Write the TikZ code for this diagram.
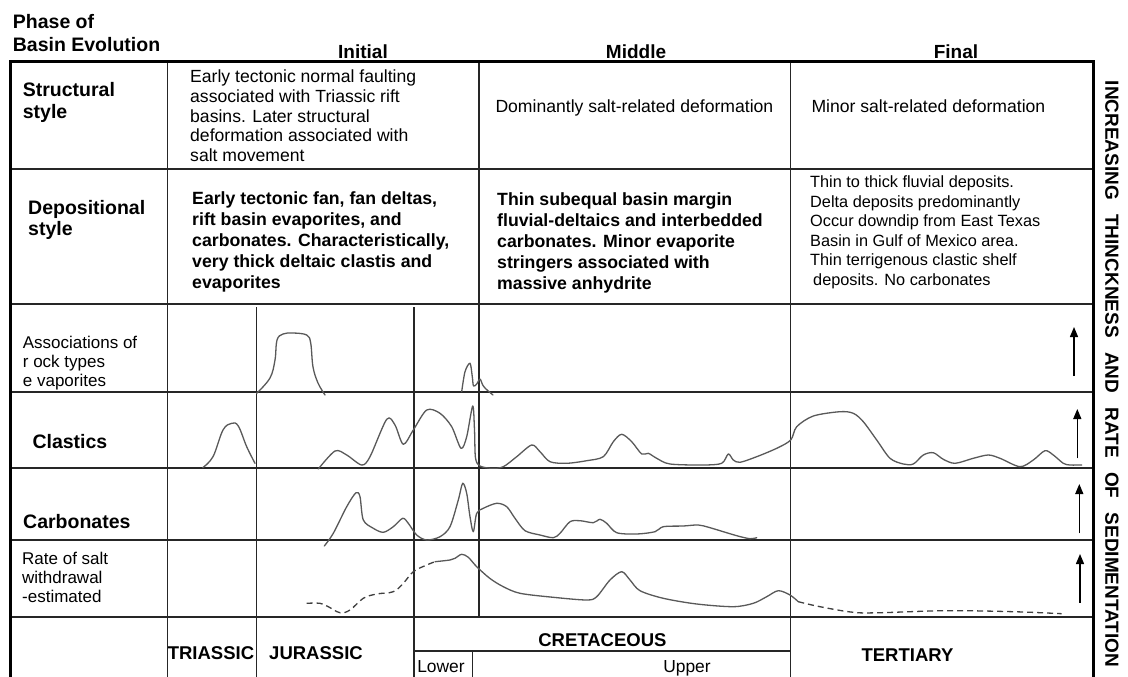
\documentclass[tikz,border=0pt]{standalone}
\usepackage{fontspec}
\setmainfont{Liberation Sans}
\usetikzlibrary{arrows.meta}

\tikzset{
  tline/.style={line width=1.2pt, black!85},
  frame/.style={line width=3pt, black},
  curve/.style={line width=1.3pt, black!65, line join=round, line cap=round},
  dcurve/.style={line width=1.3pt, black!75, dash pattern=on 6pt off 4pt},
  uparrow/.style={line width=1.3pt, -{Triangle[width=8pt,length=10pt]}},
  txt/.style={anchor=base west, inner sep=0pt, align=left, font=\fontsize{17.6}{19.85}\selectfont},
  ftxt/.style={anchor=base west, inner sep=0pt, align=left, font=\fontsize{16.3}{19.5}\selectfont},
  btxt/.style={anchor=base west, inner sep=0pt, align=left, font=\bfseries\fontsize{17.7}{21}\selectfont},
  lbl/.style={anchor=base west, inner sep=0pt, align=left, font=\bfseries\fontsize{19.5}{21.6}\selectfont},
  slbl/.style={anchor=base west, inner sep=0pt, align=left, font=\fontsize{17}{19.3}\selectfont},
  hd/.style={anchor=base, inner sep=0pt, font=\bfseries\fontsize{19}{19}\selectfont},
  per/.style={anchor=base, inner sep=0pt, font=\bfseries\fontsize{18.5}{18.5}\selectfont},
  sub/.style={anchor=base, inner sep=0pt, font=\fontsize{17.4}{17.4}\selectfont}
}

\begin{document}
\begin{tikzpicture}[x=1pt,y=-1pt]

\fill[white] (0,0) rectangle (1128,677);
\useasboundingbox (0,0) rectangle (1128,677);

% table lines
\foreach \y in {169,304,392,468,540,617}
  \draw[tline] (10,\y) -- (1093,\y);
\draw[tline] (414,651) -- (790.7,651);

\draw[tline] (167.5,62) -- (167.5,677);
\draw[tline] (479,62) -- (479,617);
\draw[tline] (790.7,62) -- (790.7,677);
\draw[tline] (256.5,307) -- (256.5,677);
\draw[tline] (414,307) -- (414,677);
\draw[tline] (472.8,651) -- (472.8,677);

\draw[frame] (10,677) -- (10,62) -- (1093,62) -- (1093,677);

% headings (multi-line nodes sit on their last baseline)
\node[lbl] (phase) at (12.7,51.7) {Phase of\\[1.8pt]Basin Evolution};
\node[hd] (hdinit) at (363,59) {Initial};
\node[hd] (hdmid) at (636,59) {Middle};
\node[hd] (hdfin) at (956,59) {Final};

% row labels
\node[lbl] (lstruct) at (22.7,118.3) {Structural\\style};
\node[lbl] (ldepo) at (28,235.6) {Depositional\\style};
\node[slbl] (lassoc) at (22.7,386.9) {Associations of\\ r ock types\\e vaporites};
\node[lbl] (lclast) at (32.3,448.3) {Clastics};
\node[lbl] (lcarb) at (23,528.3) {Carbonates};
\node[slbl] (lrate) at (22,602.6) {Rate of salt\\withdrawal\\-estimated};

% structural style
\node[txt] (stinit) at (190,161.7) {Early tectonic normal faulting\\associated with Triassic rift\\basins. Later structural\\deformation associated with\\salt movement};
\node[txt] (stmid) at (495.3,112.7) {Dominantly salt-related deformation};
\node[txt] (stfin) at (811.3,112.7) {Minor salt-related deformation};

% depositional style
\node[btxt] (dpinit) at (192,288) {Early tectonic fan, fan deltas,\\rift basin evaporites, and\\carbonates. Characteristically,\\very thick deltaic clastis and\\evaporites};
\node[btxt] (dpmid) at (497,289) {Thin subequal basin margin\\fluvial-deltaics and interbedded\\carbonates. Minor evaporite\\stringers associated with\\massive anhydrite};
\node[ftxt] (dpfin) at (810,285) {Thin to thick fluvial deposits.\\Delta deposits predominantly\\Occur downdip from East Texas\\Basin in Gulf of Mexico area.\\Thin terrigenous clastic shelf\\\hspace{3pt}deposits. No carbonates};

% periods
\node[per] (triassic) at (211,659.5) {TRIASSIC};
\node[per] (jurassic) at (316,659.5) {JURASSIC};
\node[per] (cretaceous) at (602.4,646) {CRETACEOUS};
\node[sub] (lower) at (441,672.7) {Lower};
\node[sub] (upper) at (687,672.7) {Upper};
\node[per] (tertiary) at (907.5,661) {TERTIARY};

\node[rotate=-90, inner sep=0pt, font=\bfseries\fontsize{19}{19}\selectfont] (sidetxt) at (1112,374)
  {INCREASING\hspace{9pt} THINCKNESS\hspace{9pt} AND\hspace{9pt} RATE\hspace{9pt} OF\hspace{9pt} SEDIMENTATION};

% arrows
\foreach \i/\x/\ya/\yb in {1/1074/376/327,2/1077.3/458.3/409,3/1079.3/533.3/484,4/1080/602.7/554} {
  \coordinate (arr\i b) at (\x,\ya);
  \coordinate (arr\i t) at (\x,\yb);
  \draw[uparrow] (arr\i b) -- (arr\i t);
}

% evaporites
\draw[curve] plot[smooth, tension=0.6] coordinates {(256.7,393.3) (270,378) (275,360) (277,340) (283,334) (293,333) (306.7,335) (310.7,343) (313,367) (318,383) (325,395)};
\draw[curve] plot[smooth, tension=0.5] coordinates {(461.7,391.7) (465,371.7) (470,363.3) (472.3,376.7) (473.5,386) (476.7,384) (480,379) (482.7,385) (486,389) (493,395)};

% clastics
\draw[curve] plot[smooth, tension=0.6] coordinates {(202.7,467.7) (213,456.7) (223,430) (231.7,423.3) (238.3,426) (246.7,446.7) (255,463.3)};
\draw[curve] plot[smooth, tension=0.5] coordinates {(318.3,469) (335,451) (346.7,455) (361.7,465) (370,456.7) (386.7,419.3) (395,425) (403.3,444.3) (413.3,430) (426.7,410) (440,413.3) (451.7,426.7) (461,448.3) (466.7,436.7) (472.7,406) (474.5,430) (475.5,458) (480,466) (491.7,468.3) (503.3,466.7) (516.7,456.7) (531.7,445) (540,451.7) (550,461.7) (566.7,463.3) (586.7,460.7) (603.3,456.7) (613.3,441.7) (621.7,434.3) (631.7,441.7) (641.7,454) (648.3,453.3) (656.7,458.3) (670,464) (703.3,465) (721.7,463.3) (728.3,454) (733.3,460) (740,462.3) (756.7,456.7) (776.7,448.3) (790.7,440) (796.7,426.7) (813.3,416) (840,411.7) (853.3,413.3) (863.3,421.7) (876.7,440) (890,458.3) (903.3,464) (913.3,464) (923.3,455) (933.3,452.7) (943.3,459.3) (955,463.3) (973.3,458.3) (988.3,455) (1000,458.3) (1020,466.7) (1033.3,460) (1045,450.7) (1053.3,455) (1063.3,463.3) (1070,465) (1081.7,465)};

% carbonates
\draw[curve] plot[smooth, tension=0.5] coordinates {(324.3,546) (333.3,533.3) (346.7,506.7) (356,492.7) (360,496.7) (363.3,520) (373.3,528.3) (383.3,532.3) (393.3,526.7) (402.7,518.3) (408.3,523.3) (416.7,535) (426.7,540) (440,536.7) (450,526.7) (458.3,500) (462.7,483.3) (466.7,493.3) (470,516.7) (473.3,531.7) (476.7,513.3) (483.3,508.3) (496.7,503.3) (506.7,506.7) (515,518.3) (525,530.7) (540,535) (553.3,537.7) (560,533.3) (570,521.7) (580,520.7) (593.3,522.7) (600,519.3) (606.7,523.3) (616.7,532.7) (636.7,534) (655,531.7) (663.3,526.7) (683.3,526) (698.3,525) (710,527.7) (736.7,535.7) (750,538.7) (756.7,537.7)};

% salt withdrawal
\draw[dcurve] plot[smooth, tension=0.6] coordinates {(306.7,603.3) (320,603.3) (328.3,606.7) (340,612.7) (350,610) (363.3,598.3) (376.7,594) (393.3,591.7) (403.3,583.3) (413.3,571.7) (426.7,565) (435,561.7)};
\draw[curve] plot[smooth, tension=0.5] coordinates {(435,561.7) (450,560) (455,558.3) (461.7,554.3) (468.3,557.3) (476.7,566.7) (490,578.5) (503.3,586.7) (520,593.3) (553.3,597.3) (586.7,600) (596.7,596.7) (610,580) (621.7,571.7) (630,580) (640,590.7) (663.3,598.3) (696.7,604) (733.3,606.7) (753.3,603.3) (766.7,596.7) (778.3,590.7) (790,595) (798.3,601.7)};
\draw[dcurve] plot[smooth, tension=0.6] coordinates {(798.3,601.7) (820,606.7) (853.3,612.3) (880,612.7) (946.7,610.7) (1013.3,611.7) (1061.7,613.7)};

\end{tikzpicture}
\end{document}
